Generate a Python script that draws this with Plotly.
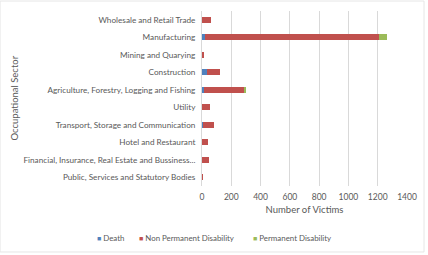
import plotly.graph_objects as go

categories = [
    "Public, Services and Statutory Bodies",
    "Financial, Insurance, Real Estate and Bussiness...",
    "Hotel and Restaurant",
    "Transport, Storage and Communication",
    "Utility",
    "Agriculture, Forestry, Logging and Fishing",
    "Construction",
    "Mining and Quarying",
    "Manufacturing",
    "Wholesale and Retail Trade",
]
death = [1, 2, 1, 5, 3, 16, 34, 2, 20, 2]
non_permanent = [2, 48, 40, 80, 50, 275, 92, 14, 1188, 59]
permanent = [0, 0, 0, 0, 0, 3, 0, 0, 58, 0]

series_names = ["Death", "Non Permanent Disability", "Permanent Disability"]
series_colors = ["#4F81BD", "#C0504D", "#9BBB59"]

x_ticks = [0, 200, 400, 600, 800, 1000, 1200, 1400]

FONT = "Lato"
GRAY = "#595959"

fig = go.Figure()
for name, vals, col in zip(series_names, [death, non_permanent, permanent], series_colors):
    fig.add_trace(go.Bar(y=categories, x=vals, name=name, orientation="h",
                         marker=dict(color=col, line_width=0), showlegend=False))

# legend drawn as text entries below the chart (positions in paper coords)
legend_left_px = [95, 137, 251]
annotations = []
for name, col, px in zip(series_names, series_colors, legend_left_px):
    annotations.append(dict(
        text=f"<span style='color:{col};font-size:7px'>■</span> {name}",
        xref="paper", yref="paper", x=(px - 202) / 205, y=(186 - 238) / 175,
        xanchor="left", yanchor="middle", showarrow=False,
        font=dict(family=FONT, size=7.9, color=GRAY)))
annotations.append(dict(text="Occupational Sector", textangle=-90, xref="paper", yref="paper",
                        x=-0.917, y=0.5, xanchor="center", yanchor="middle", showarrow=False,
                        font=dict(family=FONT, size=9.5, color=GRAY)))

fig.update_layout(
    width=428, height=255,
    barmode="stack", bargap=0.65,
    margin=dict(l=202, r=21, t=11, b=69, autoexpand=False),
    paper_bgcolor="white", plot_bgcolor="white",
    font=dict(family=FONT, size=8.2, color=GRAY),
    showlegend=False,
    xaxis=dict(range=[0, 1400], tickvals=x_ticks, showgrid=True, gridcolor="#D9D9D9",
               gridwidth=1, zeroline=False, showline=False, ticks="", automargin=True,
               ticklabelstandoff=4, tickfont=dict(size=8.5, color=GRAY),
               title=dict(text="Number of Victims", font=dict(size=9.5, color=GRAY), standoff=5)),
    yaxis=dict(showgrid=False, zeroline=False, showline=True, linecolor="#D9D9D9",
               ticks="", ticklabelstandoff=4, automargin=False,
               tickfont=dict(size=8.2, color=GRAY)),
    shapes=[dict(type="rect", xref="paper", yref="paper", x0=-0.985, x1=1.083,
                 y0=-0.377, y1=1.057, line=dict(color="#E6E6E6", width=1))],
    annotations=annotations,
)

fig.write_html("out.html")
